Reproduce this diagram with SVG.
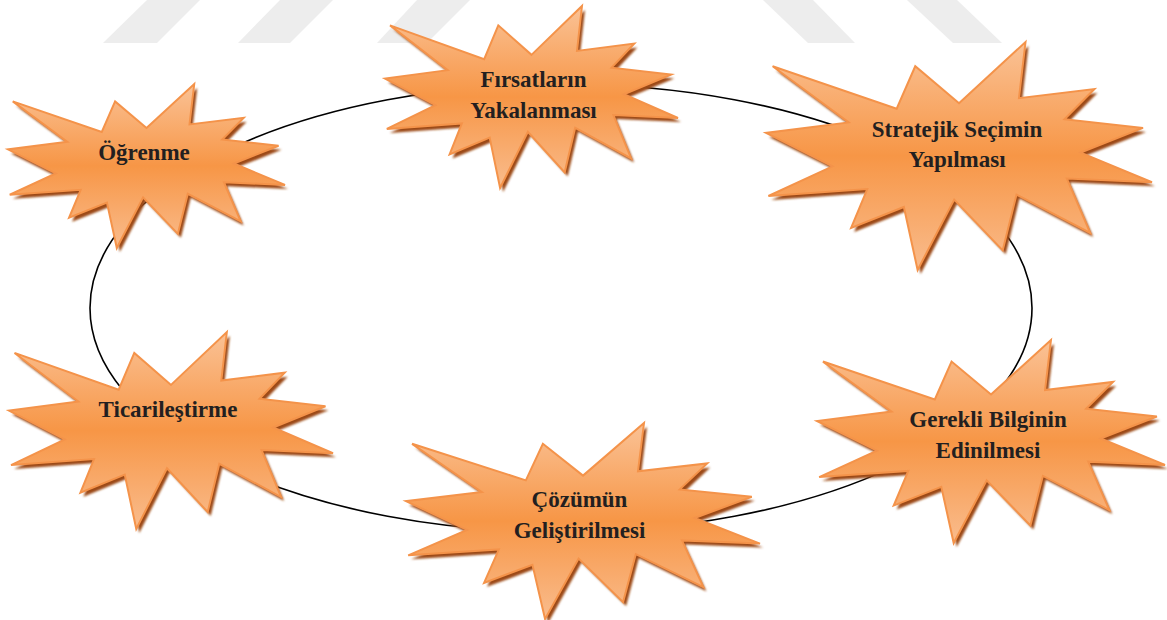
<svg xmlns="http://www.w3.org/2000/svg" xmlns:xlink="http://www.w3.org/1999/xlink" width="1167" height="620" viewBox="0 0 1167 620">
  <style>
    .wm { fill: #EDEDED; }
    .ring { fill: none; stroke: #000000; stroke-width: 1.6; }
    .shadow { fill: #9C4A16; stroke: none; }
    .star { fill: url(#starGrad); stroke: #F4934A; stroke-width: 2; }
    .label { font-family: "Liberation Serif", "Times New Roman", serif; font-weight: bold; font-size: 23px; fill: #231F20; text-anchor: middle; }
  </style>
  <defs>
    <linearGradient id="starGrad" x1="0" y1="0" x2="0" y2="1">
      <stop offset="0" stop-color="#FAC296"/>
      <stop offset="0.5" stop-color="#F79646"/>
      <stop offset="1" stop-color="#F9BC8D"/>
    </linearGradient>
    <filter id="soft" x="-5%" y="-5%" width="110%" height="110%">
      <feGaussianBlur stdDeviation="0.8"/>
    </filter>
    <path id="seal" vector-effect="non-scaling-stroke" d="M10800 5800 L14522 0 L14155 5325 L18380 4457 L16702 7315 L21097 8137 L17607 10475 L21600 13290 L16837 12942 L18145 18095 L14020 14457 L13247 19737 L10532 14935 L8485 21600 L7715 15627 L4762 17617 L5667 13937 L135 14587 L3722 11775 L0 8615 L4627 7617 L370 2295 L7312 6320 L8352 2295 Z"/>
  </defs>

  <rect width="1167" height="620" fill="#FFFFFF"/>

  <g id="watermark">
    <polygon class="wm" points="147,0 200,0 157,43 103,43"/>
    <polygon class="wm" points="280,0 333,0 290,43 238,43"/>
    <polygon class="wm" points="417,0 470,0 427,43 377,43"/>
    <polygon class="wm" points="763,0 813,0 855,43 808,43"/>
    <polygon class="wm" points="907,0 957,0 1002,43 953,43"/>
  </g>

  <g id="connectors">
    <ellipse class="ring" cx="561" cy="308" rx="471" ry="224"/>
  </g>

  <g id="node-ogrenme">
    <g filter="url(#soft)"><use xlink:href="#seal" class="shadow" transform="translate(11,88) scale(0.012824,0.0075926)"/></g>
    <use xlink:href="#seal" class="star" transform="translate(8,84) scale(0.012824,0.0075926)"/>
    <text class="label" x="144" y="160">Öğrenme</text>
  </g>

  <g id="node-firsatlarin">
    <g filter="url(#soft)"><use xlink:href="#seal" class="shadow" transform="translate(388,10) scale(0.013565,0.0084259)"/></g>
    <use xlink:href="#seal" class="star" transform="translate(385,6) scale(0.013565,0.0084259)"/>
    <text class="label" x="533.5" y="87">Fırsatların</text>
    <text class="label" x="533.5" y="118">Yakalanması</text>
  </g>

  <g id="node-stratejik">
    <g filter="url(#soft)"><use xlink:href="#seal" class="shadow" transform="translate(769,46) scale(0.017870,0.010556)"/></g>
    <use xlink:href="#seal" class="star" transform="translate(766,42) scale(0.017870,0.010556)"/>
    <text class="label" x="957" y="137">Stratejik Seçimin</text>
    <text class="label" x="957" y="167">Yapılması</text>
  </g>

  <g id="node-ticarilestirme">
    <g filter="url(#soft)"><use xlink:href="#seal" class="shadow" transform="translate(12,336) scale(0.015,0.0091204)"/></g>
    <use xlink:href="#seal" class="star" transform="translate(9,332) scale(0.015,0.0091204)"/>
    <text class="label" x="168" y="417">Ticarileştirme</text>
  </g>

  <g id="node-cozumun">
    <g filter="url(#soft)"><use xlink:href="#seal" class="shadow" transform="translate(409,427) scale(0.016389,0.0090741)"/></g>
    <use xlink:href="#seal" class="star" transform="translate(406,423) scale(0.016389,0.0090741)"/>
    <text class="label" x="579.5" y="507">Çözümün</text>
    <text class="label" x="579.5" y="538">Geliştirilmesi</text>
  </g>

  <g id="node-gerekli">
    <g filter="url(#soft)"><use xlink:href="#seal" class="shadow" transform="translate(820,344) scale(0.016111,0.0093981)"/></g>
    <use xlink:href="#seal" class="star" transform="translate(817,340) scale(0.016111,0.0093981)"/>
    <text class="label" x="988" y="427">Gerekli Bilginin</text>
    <text class="label" x="988" y="458">Edinilmesi</text>
  </g>
</svg>
